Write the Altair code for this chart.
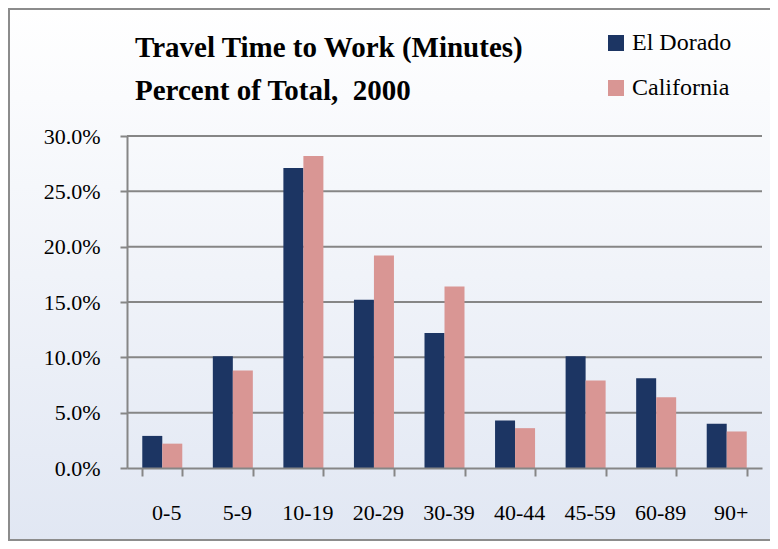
import altair as alt
import pandas as pd

categories = ["0-5", "5-9", "10-19", "20-29", "30-39", "40-44", "45-59", "60-89", "90+"]
el_dorado = [2.9, 10.1, 27.1, 15.2, 12.2, 4.3, 10.1, 8.1, 4.0]
california = [2.2, 8.8, 28.2, 19.2, 16.4, 3.6, 7.9, 6.4, 3.3]
series = ["El Dorado", "California"]
colors = ["#1C3563", "#D99694"]
y_ticks = [0, 5, 10, 15, 20, 25, 30]
title_lines = "Travel Time to Work (Minutes)\nPercent of Total,\u00a0 2000"

rows = []
for c, a, b in zip(categories, el_dorado, california):
    rows.append({"range": c, "series": series[0], "pct": a})
    rows.append({"range": c, "series": series[1], "pct": b})
df = pd.DataFrame(rows)

W, H = 635, 332
PL, PT, PR, PB = 119, 128, 8, 73
FONT = "Liberation Serif"
GRID = "#868686"

yscale = alt.Scale(domain=[0, 30], nice=False)

bg = alt.Chart(pd.DataFrame({"k": [0]})).mark_rect(
    fill=alt.Gradient(
        gradient="linear",
        stops=[alt.GradientStop(color="#FFFFFF", offset=0),
               alt.GradientStop(color="#E1E7F3", offset=1)],
        x1=0, y1=0, x2=0, y2=1),
    stroke="#8C8C8C", strokeWidth=2,
).encode(x=alt.value(-PL + 1), x2=alt.value(W + PR + 20),
         y=alt.value(-PT + 1), y2=alt.value(H + PB - 1))

title = alt.Chart(pd.DataFrame({"t": [title_lines]})).mark_text(
    align="left", baseline="alphabetic", font=FONT, fontSize=29,
    fontWeight="bold", color="#000000", lineBreak="\n", lineHeight=43,
).encode(text="t:N", x=alt.value(8), y=alt.value(-79))

grid = alt.Chart(pd.DataFrame({"v": y_ticks[1:]})).mark_rule(
    color=GRID, strokeWidth=2
).encode(y=alt.Y("v:Q", scale=yscale, axis=None),
         x=alt.value(0), x2=alt.value(W))

bars = alt.Chart(df).mark_bar().encode(
    x=alt.X("range:N", sort=categories,
            scale=alt.Scale(paddingInner=0.433, paddingOuter=0.2165),
            axis=alt.Axis(title=None, labelAngle=0, tickBand="extent",
                          tickSize=8, tickWidth=2, tickColor=GRID,
                          domainColor=GRID, domainWidth=2, zindex=1,
                          labelFont=FONT, labelFontSize=22, labelColor="#000000",
                          labelPadding=26, labelOffset=4)),
    xOffset=alt.XOffset("series:N", sort=series),
    y=alt.Y("pct:Q", scale=yscale,
            axis=alt.Axis(title=None, values=y_ticks,
                          labelExpr="format(datum.value, '.1f') + '%'",
                          tickSize=7, tickWidth=2, tickColor=GRID,
                          domainColor=GRID, domainWidth=2, zindex=1,
                          labelFont=FONT, labelFontSize=22, labelColor="#000000",
                          labelPadding=20)),
    color=alt.Color("series:N", sort=series,
                    scale=alt.Scale(domain=series, range=colors),
                    legend=alt.Legend(title=None, orient="none",
                                      legendX=477, legendY=-105,
                                      direction="vertical",
                                      symbolType="square", symbolSize=256,
                                      symbolStrokeWidth=0,
                                      labelFont=FONT, labelFontSize=24,
                                      labelColor="#000000", labelOffset=4,
                                      rowPadding=21)),
)

chart = alt.layer(bg, title, grid, bars).resolve_axis(y="independent").properties(
    width=W, height=H,
    padding={"left": PL, "top": PT, "right": PR, "bottom": PB},
    autosize=alt.AutoSizeParams(type="none"),
).configure_view(stroke=None).configure_axis(grid=False)

chart.save("out.html", embed_options={"renderer": "svg", "actions": False})
